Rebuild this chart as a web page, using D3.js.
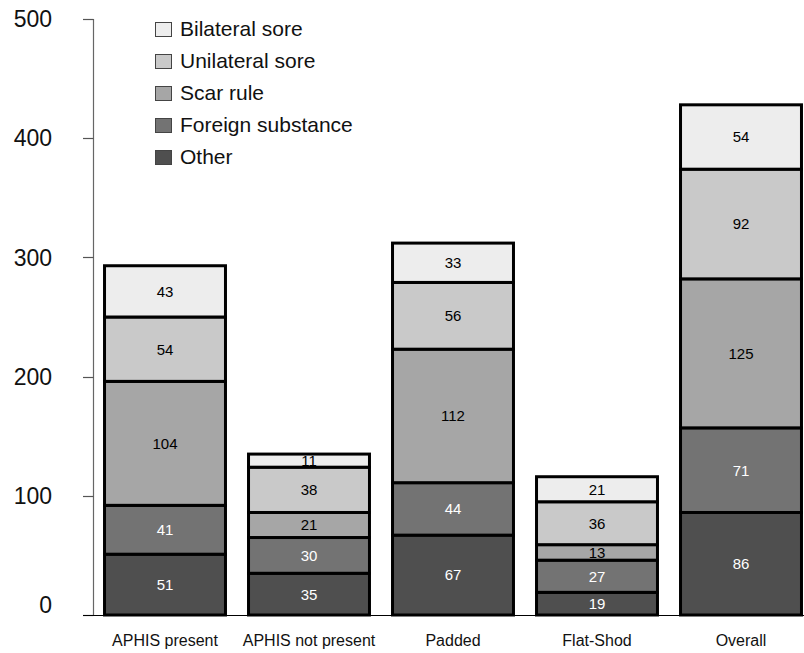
<!DOCTYPE html>
<html>
<head>
<meta charset="utf-8">
<script src="https://cdn.jsdelivr.net/npm/d3@7"></script>
<style>
  html, body { margin: 0; padding: 0; background: #fff; }
  svg { display: block; font-family: "Liberation Sans", Arial, Helvetica, sans-serif; }
</style>
</head>
<body>
<svg id="chart" width="804" height="653"></svg>
<script>
// Violation counts by inspection setting
const categories = ["APHIS present", "APHIS not present", "Padded", "Flat-Shod", "Overall"];
const seriesNames = ["Other", "Foreign substance", "Scar rule", "Unilateral sore", "Bilateral sore"];
const other            = [51, 35, 67, 19, 86];
const foreignSubstance = [41, 30, 44, 27, 71];
const scarRule         = [104, 21, 112, 13, 125];
const unilateralSore   = [54, 38, 56, 36, 92];
const bilateralSore    = [43, 11, 33, 21, 54];
const yTicks = [0, 100, 200, 300, 400, 500];

const seriesColors = ["#4f4f4f", "#737373", "#a6a6a6", "#c9c9c9", "#ededed"];
const labelColors  = ["#ffffff", "#ffffff", "#000000", "#000000", "#000000"];

const rows = categories.map((c, i) => ({
  category: c,
  "Other": other[i],
  "Foreign substance": foreignSubstance[i],
  "Scar rule": scarRule[i],
  "Unilateral sore": unilateralSore[i],
  "Bilateral sore": bilateralSore[i]
}));

const stacked = d3.stack().keys(seriesNames)(rows);

const svg = d3.select("#chart");

const x = d3.scaleBand()
  .domain(categories)
  .range([93, 813])
  .paddingInner(0.16)
  .paddingOuter(0.08);

const y = d3.scaleLinear()
  .domain([0, 500])
  .range([615, 19]);

// Vertical axis line with ticks
const axisG = svg.append("g");
axisG.append("line")
  .attr("x1", 93.5).attr("x2", 93.5)
  .attr("y1", y(500)).attr("y2", y(0))
  .attr("stroke", "#666").attr("stroke-width", 1.2);
axisG.selectAll("line.tick")
  .data(yTicks)
  .join("line")
  .attr("class", "tick")
  .attr("x1", 83).attr("x2", 93.5)
  .attr("y1", d => Math.round(y(d)) + 0.5)
  .attr("y2", d => Math.round(y(d)) + 0.5)
  .attr("stroke", "#555").attr("stroke-width", 1.2);
axisG.selectAll("text.ylab")
  .data(yTicks)
  .join("text")
  .attr("class", "ylab")
  .attr("x", 52)
  .attr("y", d => y(d) - (d === 0 ? 10 : 0))
  .attr("dy", "0.36em")
  .attr("text-anchor", "end")
  .attr("font-size", 23)
  .attr("fill", "#111")
  .text(d => d);

// Stacked bars
const layers = svg.append("g")
  .selectAll("g.layer")
  .data(stacked)
  .join("g")
  .attr("class", "layer");

layers.selectAll("rect")
  .data((s, si) => s.map(d => ({ d, si })))
  .join("rect")
  .attr("x", o => x(o.d.data.category))
  .attr("width", x.bandwidth())
  .attr("y", o => y(o.d[1]))
  .attr("height", o => y(o.d[0]) - y(o.d[1]))
  .attr("fill", o => seriesColors[o.si])
  .attr("stroke", "#000")
  .attr("stroke-width", 3);

// Value labels inside each segment
layers.selectAll("text")
  .data((s, si) => s.map(d => ({ d, si, key: s.key })))
  .join("text")
  .attr("x", o => x(o.d.data.category) + x.bandwidth() / 2)
  .attr("y", o => (y(o.d[0]) + y(o.d[1])) / 2)
  .attr("dy", "0.36em")
  .attr("text-anchor", "middle")
  .attr("font-size", 15)
  .attr("fill", o => labelColors[o.si])
  .text(o => o.d.data[o.key]);

// Baseline
svg.append("line")
  .attr("x1", 83).attr("x2", 804)
  .attr("y1", 615.5).attr("y2", 615.5)
  .attr("stroke", "#000").attr("stroke-width", 1.2);

// Category labels
svg.append("g")
  .selectAll("text")
  .data(categories)
  .join("text")
  .attr("x", d => x(d) + x.bandwidth() / 2)
  .attr("y", 646)
  .attr("text-anchor", "middle")
  .attr("font-size", 16)
  .attr("fill", "#111")
  .text(d => d);

// Legend, top entry first
const legendItems = seriesNames.map((n, i) => ({ name: n, color: seriesColors[i] })).reverse();
const legend = svg.append("g")
  .selectAll("g")
  .data(legendItems)
  .join("g")
  .attr("transform", (d, i) => `translate(0, ${36 + i * 32})`);
legend.append("rect")
  .attr("x", 155.5).attr("y", -13.5)
  .attr("width", 16).attr("height", 14)
  .attr("fill", d => d.color)
  .attr("stroke", "#444").attr("stroke-width", 1);
legend.append("text")
  .attr("x", 180).attr("y", 0)
  .attr("font-size", 21)
  .attr("fill", "#111")
  .text(d => d.name);
</script>
</body>
</html>
